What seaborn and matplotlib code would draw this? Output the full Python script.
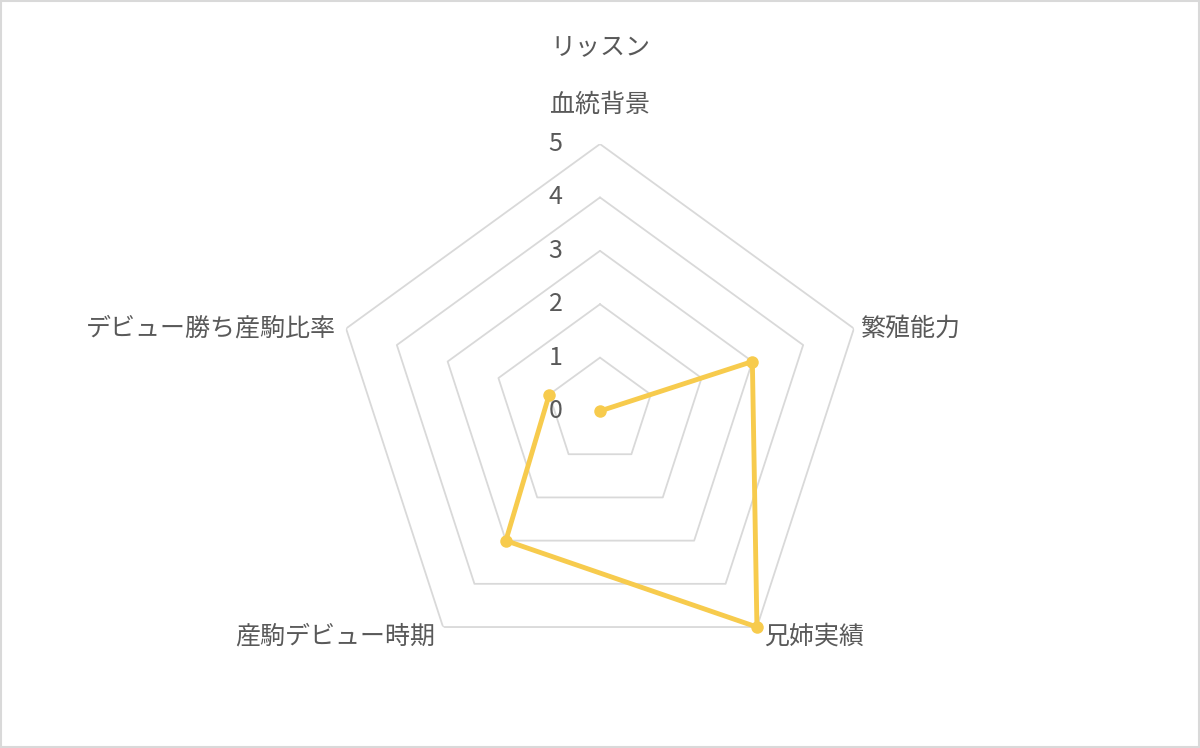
import numpy as np
import pandas as pd
import matplotlib
matplotlib.use("Agg")
import matplotlib.pyplot as plt
import seaborn as sns
from matplotlib.patches import Rectangle

categories = ["血統背景", "繁殖能力", "兄姉実績", "産駒デビュー時期", "デビュー勝ち産駒比率"]
values = [0, 3, 5, 3, 1]
tick_values = [0, 1, 2, 3, 4, 5]
title = "リッスン"

sns.set_style("white")
plt.rcParams['font.family'] = ['Noto Sans CJK JP', 'DejaVu Sans']

TEXT = "#595959"
GRID = "#D9D9D9"
LINE = "#F7CB4D"

fig = plt.figure(figsize=(12, 7.48), dpi=100)
ax = fig.add_axes([0.2775, 0.0935, 0.445, 0.714], projection="polar")
ax.set_theta_offset(np.pi / 2)
ax.set_theta_direction(-1)

n = len(categories)
angles = np.linspace(0, 2 * np.pi, n, endpoint=False)
closed_angles = np.append(angles, angles[0])

# pentagon grid
for t in tick_values[1:]:
    ax.plot(closed_angles, [t] * (n + 1), color=GRID, lw=1.3, zorder=1)

df = pd.DataFrame({"theta": closed_angles, "r": values + [values[0]]})
sns.lineplot(data=df, x="theta", y="r", sort=False, ax=ax, color=LINE, lw=3.5,
             marker="o", markersize=9, markeredgewidth=0, zorder=3)
ax.lines[-1].set_clip_on(False)

ax.set_ylim(0, 5)
ax.set_xticks([])
ax.set_yticks([])
ax.grid(False)
ax.spines["polar"].set_visible(False)
ax.set_xlabel("")
ax.set_ylabel("")

# tick labels
for t in tick_values:
    ax.annotate(str(t), xy=(0, t), xytext=(-32, 0), textcoords="offset points",
                ha="center", va="center", fontsize=18, color=TEXT)

# category labels
offsets = [((0, 28), "center", "center"),
           ((5, 0), "left", "center"),
           ((5, -7), "left", "center"),
           ((-6, -7), "right", "center"),
           ((-7, 0), "right", "center")]
for a, lab, (off, ha, va) in zip(angles, categories, offsets):
    ax.annotate(lab, xy=(a, 5), xytext=off, textcoords="offset points",
                ha=ha, va=va, fontsize=18, color=TEXT)

fig.text(0.5, 1 - 47 / 748, title, ha="center", va="center", fontsize=18, color=TEXT)

fig.patches.append(Rectangle((0.001, 0.001), 0.998, 0.997, transform=fig.transFigure,
                             fill=False, edgecolor=GRID, lw=1.5))

fig.savefig("out.png", dpi=100, facecolor="white")
